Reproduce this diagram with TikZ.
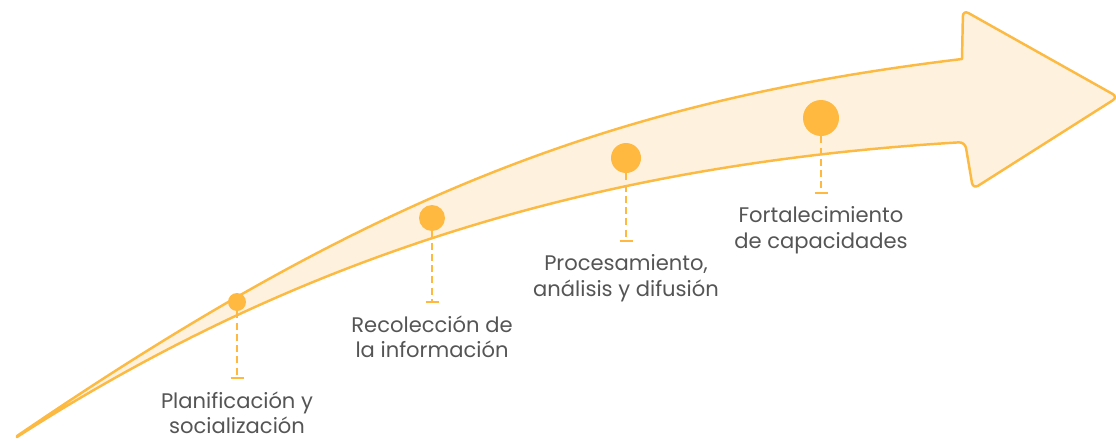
\documentclass[tikz,border=0pt]{standalone}
\usepackage{fontspec}
\setmainfont{Poppins}
\usetikzlibrary{positioning}
\definecolor{arrowfill}{HTML}{FEF2DE}
\definecolor{arrowline}{HTML}{FCBA42}
\definecolor{dotcol}{HTML}{FFB940}
\definecolor{txtgray}{HTML}{555555}
\tikzset{
  stage/.style={circle,fill=dotcol,inner sep=0pt},
  stem/.style={draw=dotcol,line width=1.1pt,dash pattern=on 4pt off 2.4pt},
  tickline/.style={draw=dotcol,line width=1.1pt},
  steptext/.style={text=txtgray,align=center,font=\fontsize{12}{14.7}\selectfont,inner sep=0pt}
}
\begin{document}
\begin{tikzpicture}[x=0.02cm,y=-0.02cm]
\useasboundingbox (0,0) rectangle (1116,440);
\pgfmathsetmacro{\w}{0.13}
% arrow body
\draw[fill=arrowfill,draw=arrowline,line width=1.4pt,line join=round]
 (17,436) .. controls (367,197) and (612,101) .. (962,59)
 [rounded corners=3.5pt] -- (963,10) -- (1118,97) -- (973,189) -- (965,142)
 [sharp corners] .. controls (615,163) and (310,248) .. (17,437) -- cycle;
% stages
\node[stage,minimum size=0.36cm] (s1) at (237,302) {};
\node[stage,minimum size=0.52cm] (s2) at (432,218) {};
\node[stage,minimum size=0.60cm] (s3) at (626,158) {};
\node[stage,minimum size=0.72cm] (s4) at (821,118) {};
\coordinate (t1) at (237,378);
\coordinate (t2) at (432,302);
\coordinate (t3) at (626,241);
\coordinate (t4) at (821,193);
\foreach \i in {1,...,4}{
  \draw[stem] (s\i.south) -- (t\i);
  \draw[tickline] ([xshift=-\w cm]t\i) -- ([xshift=\w cm]t\i);
}
% texts
\node[steptext,below=7.5pt of t1] (l1) {Planificación y\\socialización};
\node[steptext,below=7.5pt of t2] (l2) {Recolección de\\la información};
\node[steptext,below=7.5pt of t3] (l3) {Procesamiento,\\análisis y difusión};
\node[steptext,below=7.5pt of t4] (l4) {Fortalecimiento\\de capacidades};
\end{tikzpicture}
\end{document}
